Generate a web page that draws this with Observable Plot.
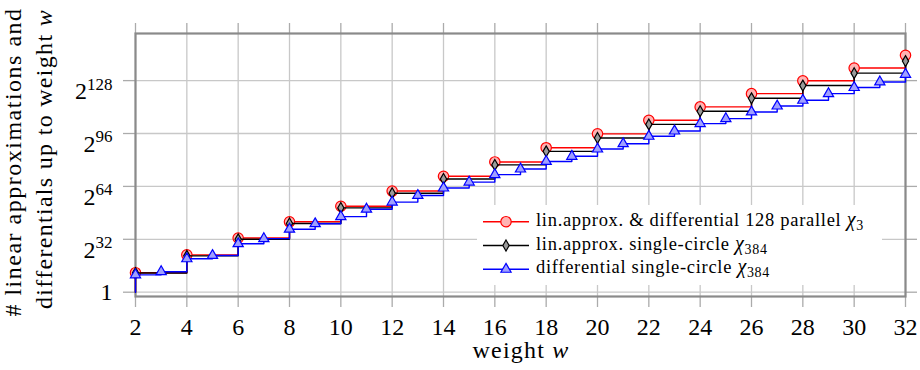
<!DOCTYPE html>
<html>
<head>
<meta charset="utf-8">
<script src="https://cdn.jsdelivr.net/npm/d3@7"></script>
<script src="https://cdn.jsdelivr.net/npm/@observablehq/plot@0.6"></script>
<style>
  html, body { margin: 0; padding: 0; background: #fff; }
  #chart { width: 920px; height: 370px; }
</style>
</head>
<body>
<div id="chart"></div>
<script>
// ---- data (log2 of counts) ----
const weightsEven = [2, 4, 6, 8, 10, 12, 14, 16, 18, 20, 22, 24, 26, 28, 30, 32];
const linApprox128Parallel = [11.8, 22.6, 32.8, 42.6, 52.0, 61.2, 70.1, 78.8, 87.4, 95.8, 104.0, 112.1, 120.1, 127.9, 135.6, 143.3];
const linApproxSingleCircle = [11.6, 22.0, 32.0, 41.6, 51.0, 59.9, 68.5, 77.0, 85.2, 93.3, 101.5, 109.5, 117.3, 125.0, 132.5, 139.8];
const weightsAll = [2, 3, 4, 5, 6, 7, 8, 9, 10, 11, 12, 13, 14, 15, 16, 17, 18, 19, 20, 21, 22, 23, 24, 25, 26, 27, 28, 29, 30, 31, 32];
const diffSingleCircle = [10.5, 12.4, 20.2, 22.2, 29.3, 32.4, 38.1, 41.4, 45.7, 50.2, 54.5, 58.5, 63.0, 66.6, 71.1, 74.5, 79.1, 82.2, 86.6, 89.8, 94.3, 97.5, 102.0, 105.0, 109.0, 112.6, 116.1, 120.1, 123.8, 127.2, 131.8];
const trivialLog2 = 0; // count 1 (trivial) below the first weight
const xTickValues = [2, 4, 6, 8, 10, 12, 14, 16, 18, 20, 22, 24, 26, 28, 30, 32];
const yTickValues = [0, 32, 64, 96, 128];
const yTickLabels = ["1", "2^32", "2^64", "2^96", "2^128"];
const seriesNames = ["lin.approx. & differential 128 parallel ", "lin.approx. single-circle ", "differential single-circle "];
const seriesSubscripts = ["3", "384", "384"];
const xLabel = "weight ";
const yLabelLines = ["# linear approximations and", "differentials up to weight "];

// ---- build tables ----
const toRows = (ws, vs) => ws.map((w, i) => ({w, v: vs[i]}));
const red = toRows(weightsEven, linApprox128Parallel);
const black = toRows(weightsEven, linApproxSingleCircle);
const blue = toRows(weightsAll, diffSingleCircle);
const withStart = rows => [{w: rows[0].w, v: trivialLog2}, ...rows];

const FONT = "'Liberation Serif', serif";
const styles = [
  {stroke: "#ff0000", fill: "#ffb3b3", symbol: "circle", r: 5.2},
  {stroke: "#000000", fill: "#9a9a9a", symbol: "diamond", r: 3.3},
  {stroke: "#0000ff", fill: "#a0a0ff", symbol: "triangle", r: 3.8}
];
const seriesRows = [red, black, blue];

const gridStyle = {stroke: "#c8c8c8", strokeOpacity: 1, strokeWidth: 1.3};
const tickStroke = "#ababab";

const marks = [
  Plot.gridX(xTickValues, gridStyle),
  Plot.gridY(yTickValues, gridStyle),
  Plot.axisX(xTickValues, {anchor: "bottom", tickSize: 11, tickPadding: 10, stroke: tickStroke, strokeWidth: 1.3, fill: "black", label: null}),
  Plot.axisX(xTickValues, {anchor: "top", tickSize: 11, stroke: tickStroke, strokeWidth: 1.3, tickFormat: () => "", label: null}),
  Plot.axisY(yTickValues, {anchor: "left", tickSize: 12, tickPadding: 11, stroke: tickStroke, strokeWidth: 1.3, fill: "black",
    tickFormat: d => yTickLabels[yTickValues.indexOf(d)], label: null}),
  Plot.axisY(yTickValues, {anchor: "right", tickSize: 11, stroke: tickStroke, strokeWidth: 1.3, tickFormat: () => "", label: null}),
  Plot.frame({stroke: "#8a8a8a", strokeWidth: 2.2})
];
seriesRows.forEach((rows, i) => {
  const s = styles[i];
  marks.push(Plot.line(withStart(rows), {x: "w", y: "v", curve: "step-after", stroke: s.stroke, strokeWidth: 1.4}));
  marks.push(Plot.dot(rows, {x: "w", y: "v", symbol: s.symbol, r: s.r, fill: s.fill, fillOpacity: 1, stroke: s.stroke, strokeWidth: 1.2}));
});

const svg = Plot.plot({
  width: 920,
  height: 370,
  marginLeft: 135,
  marginRight: 15,
  marginTop: 33,
  marginBottom: 74,
  x: {domain: [2, 32]},
  y: {domain: [-2.6, 156.5]},
  style: {fontFamily: FONT, fontSize: "24px", background: "white", color: "black", overflow: "visible"},
  marks
});
document.getElementById("chart").appendChild(svg);

// ---- superscripts on y tick labels ----
const S = d3.select(svg);
S.selectAll('g[aria-label="y-axis tick label"] text').each(function() {
  const t = this.textContent;
  if (t.startsWith("2^")) {
    const sel = d3.select(this);
    sel.text("2").attr("dy", "0.45em");
    sel.append("tspan").attr("dy", -9.5).attr("font-size", 17).text(t.slice(2));
  }
});

// ---- axis labels ----
const xl = S.append("text").attr("x", 521).attr("y", 358).attr("text-anchor", "middle")
  .attr("font-family", FONT).attr("font-size", 24).attr("letter-spacing", 1.2).attr("fill", "black");
xl.append("tspan").text(xLabel);
xl.append("tspan").attr("font-style", "italic").text("w");

S.append("text").attr("transform", "translate(21,162) rotate(-90)").attr("text-anchor", "middle")
  .attr("font-family", FONT).attr("font-size", 24).attr("letter-spacing", 1.5).attr("fill", "black").text(yLabelLines[0]);
const yl2 = S.append("text").attr("transform", "translate(52,159) rotate(-90)").attr("text-anchor", "middle")
  .attr("font-family", FONT).attr("font-size", 24).attr("letter-spacing", 1.3).attr("fill", "black");
yl2.append("tspan").text(yLabelLines[1]);
yl2.append("tspan").attr("font-style", "italic").text("w");

// ---- legend ----
const lg = S.append("g");
lg.append("rect").attr("x", 477).attr("y", 205).attr("width", 405).attr("height", 80).attr("fill", "white");
const symbolType = {circle: d3.symbolCircle, diamond: d3.symbolDiamond, triangle: d3.symbolTriangle};
seriesNames.forEach((name, i) => {
  const s = styles[i];
  const cy = 221.7 + i * 23.8;
  lg.append("line").attr("x1", 483).attr("x2", 529).attr("y1", cy).attr("y2", cy)
    .attr("stroke", s.stroke).attr("stroke-width", 1.4);
  lg.append("path").attr("d", d3.symbol(symbolType[s.symbol], Math.PI * s.r * s.r)())
    .attr("transform", `translate(506,${cy})`).attr("fill", s.fill).attr("stroke", s.stroke).attr("stroke-width", 1.2);
  const t = lg.append("text").attr("x", 536).attr("y", cy + 4).attr("text-anchor", "start")
    .attr("font-family", FONT).attr("font-size", 18.5).attr("letter-spacing", 0.7).attr("fill", "black");
  t.append("tspan").text(name);
  t.append("tspan").attr("font-style", "italic").attr("font-size", 20).text("χ");
  t.append("tspan").attr("font-size", 14).attr("dy", 4).text(seriesSubscripts[i]);
});
</script>
</body>
</html>
